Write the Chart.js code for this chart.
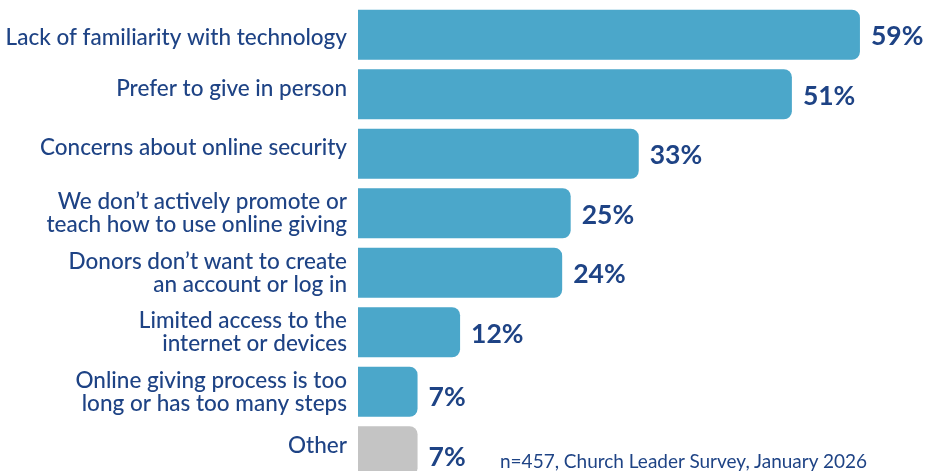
<!DOCTYPE html>
<html>
<head>
<meta charset="utf-8">
<script src="https://cdn.jsdelivr.net/npm/chart.js@4"></script>
<style>
  html, body { margin: 0; padding: 0; background: #fff; overflow: hidden; }
  #wrap { position: relative; width: 928px; height: 481px; }
  #note { position: absolute; left: 500px; top: 449px; font-family: Lato, sans-serif; font-size: 19px; color: #1e4385; white-space: nowrap; }
</style>
</head>
<body>
<div id="wrap"><canvas id="c" width="928" height="481"></canvas>
<div id="note">n=457, Church Leader Survey, January 2026</div></div>
<script>
const categories = [
  "Lack of familiarity with technology",
  "Prefer to give in person",
  "Concerns about online security",
  ["We don\u2019t actively promote or", "teach how to use online giving"],
  ["Donors don\u2019t want to create", "an account or log in"],
  ["Limited access to the", "internet or devices"],
  ["Online giving process is too", "long or has too many steps"],
  "Other"
];
const values = [59, 51, 33, 25, 24, 12, 7, 7];
const valueLabels = ["59%", "51%", "33%", "25%", "24%", "12%", "7%", "7%"];
const barColors = ["#4ba7ca", "#4ba7ca", "#4ba7ca", "#4ba7ca", "#4ba7ca", "#4ba7ca", "#4ba7ca", "#c4c4c4"];

// styling: small vertical nudges (px) of the text, as in the original artwork
const tickNudge = [3, -6, -6, 0, 0, 0, 0, -6];
const valueNudge = [0, 0, 0, 0, 0, 0, 4, 4];

const NAVY = "#1e4385";
const FONT = "Lato, sans-serif";

const valueLabelPlugin = {
  id: "valueLabels",
  afterDatasetsDraw(chart) {
    const ctx = chart.ctx;
    const meta = chart.getDatasetMeta(0);
    ctx.save();
    ctx.font = "bold 26.5px " + FONT;
    ctx.fillStyle = NAVY;
    ctx.textAlign = "left";
    ctx.textBaseline = "middle";
    meta.data.forEach((bar, i) => {
      ctx.fillText(valueLabels[i], bar.x + 11, bar.y + 2 + valueNudge[i]);
    });
    ctx.restore();
  }
};

new Chart(document.getElementById("c"), {
  type: "bar",
  data: {
    labels: categories,
    datasets: [{
      data: values,
      backgroundColor: barColors,
      borderRadius: 8,
      borderSkipped: "start",
      categoryPercentage: 1,
      barPercentage: 0.842
    }]
  },
  options: {
    indexAxis: "y",
    responsive: false,
    animation: false,
    layout: { padding: { top: 5, right: 0, bottom: 0, left: 0 } },
    plugins: { legend: { display: false }, tooltip: { enabled: false } },
    scales: {
      x: { display: false, min: 0, max: 67 },
      y: {
        grid: { display: false, drawTicks: false },
        border: { display: false },
        ticks: {
          color: NAVY,
          autoSkip: false,
          padding: 11,
          font: (c) => {
            const n = tickNudge[c.index] || 0;
            const lh = n === 0 ? "23px" : (Math.abs(n) * 2) + "px";
            return { family: FONT, size: 22.5, weight: 500, lineHeight: lh };
          },
          callback: function (value, index) {
            const lab = categories[index];
            const n = tickNudge[index] || 0;
            if (Array.isArray(lab) || n === 0) return lab;
            return n < 0 ? [lab, ""] : ["", lab];
          }
        },
        afterFit(scale) { scale.width = 358; scale.paddingTop = 0; scale.paddingBottom = 0; }
      }
    }
  },
  plugins: [valueLabelPlugin]
});
</script>
</body>
</html>
